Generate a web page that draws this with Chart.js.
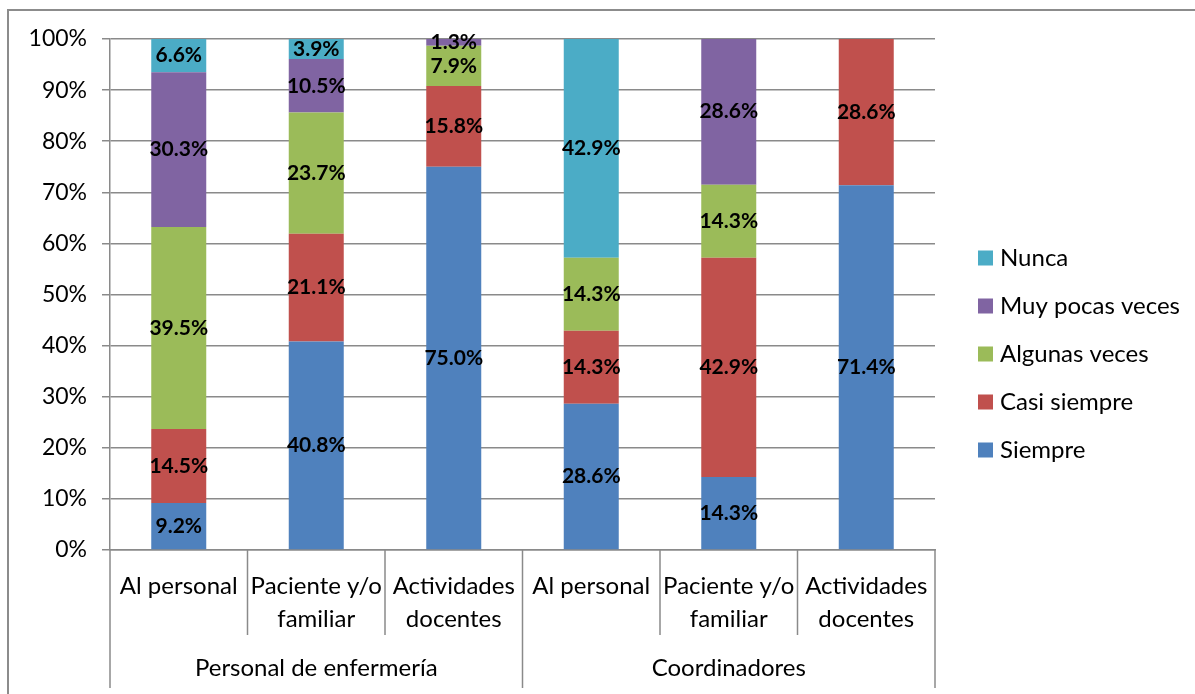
<!DOCTYPE html>
<html>
<head>
<meta charset="utf-8">
<script src="https://cdn.jsdelivr.net/npm/chart.js"></script>
<style>
  html, body { margin: 0; padding: 0; background: #fff; }
</style>
</head>
<body>
<canvas id="chart" width="1195" height="694"></canvas>
<script>
const categories = [
  ["Al personal"], ["Paciente y/o", "familiar"], ["Actividades", "docentes"],
  ["Al personal"], ["Paciente y/o", "familiar"], ["Actividades", "docentes"]
];
const groups = ["Personal de enfermería", "Coordinadores"];
const groupSize = 3;

const siempre = [9.2, 40.8, 75.0, 28.6, 14.3, 71.4];
const casiSiempre = [14.5, 21.1, 15.8, 14.3, 42.9, 28.6];
const algunasVeces = [39.5, 23.7, 7.9, 14.3, 14.3, 0];
const muyPocasVeces = [30.3, 10.5, 1.3, 0, 28.6, 0];
const nunca = [6.6, 3.9, 0, 42.9, 0, 0];

const FONT = "Lato";
const LINE = "#8a8a8a";

// labels, legend, category separators and the outer frame
const decorations = {
  id: "decorations",
  afterDatasetsDraw(chart) {
    const ctx = chart.ctx;
    ctx.save();
    ctx.font = "bold 21px " + FONT;
    ctx.fillStyle = "#000";
    ctx.textAlign = "center";
    ctx.textBaseline = "middle";
    chart.data.datasets.forEach((ds, i) => {
      const meta = chart.getDatasetMeta(i);
      meta.data.forEach((bar, j) => {
        const v = ds.data[j];
        if (!v) return;
        ctx.fillText(v.toFixed(1) + "%", bar.x, (bar.y + bar.base) / 2);
      });
    });
    ctx.restore();
  },
  afterDraw(chart) {
    const ctx = chart.ctx;
    const x = chart.scales.x;
    const area = chart.chartArea;
    const n = chart.data.labels.length;
    const edges = [area.left];
    for (let i = 0; i < n - 1; i++) {
      edges.push((x.getPixelForValue(i) + x.getPixelForValue(i + 1)) / 2);
    }
    edges.push(area.right);

    ctx.save();
    ctx.strokeStyle = LINE;
    ctx.lineWidth = 1.5;
    edges.forEach((ex, i) => {
      const isGroup = i % groupSize === 0;
      ctx.beginPath();
      ctx.moveTo(ex, area.bottom);
      ctx.lineTo(ex, isGroup ? 688 : 635);
      ctx.stroke();
    });

    ctx.font = "24px " + FONT;
    ctx.fillStyle = "#000";
    ctx.textAlign = "center";
    ctx.textBaseline = "middle";
    groups.forEach((g, i) => {
      const cx = (edges[i * groupSize] + edges[(i + 1) * groupSize]) / 2;
      ctx.fillText(g, cx, 668);
    });

    // legend, top item is the last series
    const items = chart.data.datasets.slice().reverse();
    ctx.textAlign = "left";
    items.forEach((ds, i) => {
      const cy = 258 + i * 48;
      ctx.fillStyle = ds.backgroundColor;
      ctx.fillRect(978, cy - 7.5, 15, 15);
      ctx.fillStyle = "#000";
      ctx.fillText(ds.label, 1000, cy);
    });

    // frame
    ctx.strokeStyle = "#8c8c8c";
    ctx.lineWidth = 2;
    ctx.beginPath();
    ctx.moveTo(8, 694);
    ctx.lineTo(8, 10);
    ctx.lineTo(1195, 10);
    ctx.stroke();
    ctx.restore();
  }
};

new Chart(document.getElementById("chart"), {
  type: "bar",
  data: {
    labels: categories,
    datasets: [
      { label: "Siempre", data: siempre, backgroundColor: "#4F81BD" },
      { label: "Casi siempre", data: casiSiempre, backgroundColor: "#C0504D" },
      { label: "Algunas veces", data: algunasVeces, backgroundColor: "#9BBB59" },
      { label: "Muy pocas veces", data: muyPocasVeces, backgroundColor: "#8064A2" },
      { label: "Nunca", data: nunca, backgroundColor: "#4BACC6" }
    ]
  },
  options: {
    responsive: false,
    animation: false,
    layout: { padding: { top: 39, right: 260, left: 0, bottom: 0 } },
    datasets: { bar: { barPercentage: 0.4, categoryPercentage: 1 } },
    plugins: { legend: { display: false }, tooltip: { enabled: false } },
    scales: {
      x: {
        stacked: true,
        grid: { display: false },
        border: { display: true, color: LINE, width: 1.5 },
        ticks: {
          color: "#000",
          font: { family: FONT, size: 24, lineHeight: 1.4 },
          padding: 11,
          maxRotation: 0,
          autoSkip: false
        },
        afterFit(scale) { scale.height = 144; }
      },
      y: {
        stacked: true,
        min: 0,
        max: 100,
        grid: { color: LINE, lineWidth: 1.5, tickLength: 8 },
        border: { display: true, color: LINE, width: 1.5 },
        ticks: {
          stepSize: 10,
          color: "#000",
          padding: 15,
          font: { family: FONT, size: 23 },
          callback: (v) => v + "%"
        },
        afterFit(scale) { scale.width = 110; }
      }
    }
  },
  plugins: [decorations]
});
</script>
</body>
</html>
